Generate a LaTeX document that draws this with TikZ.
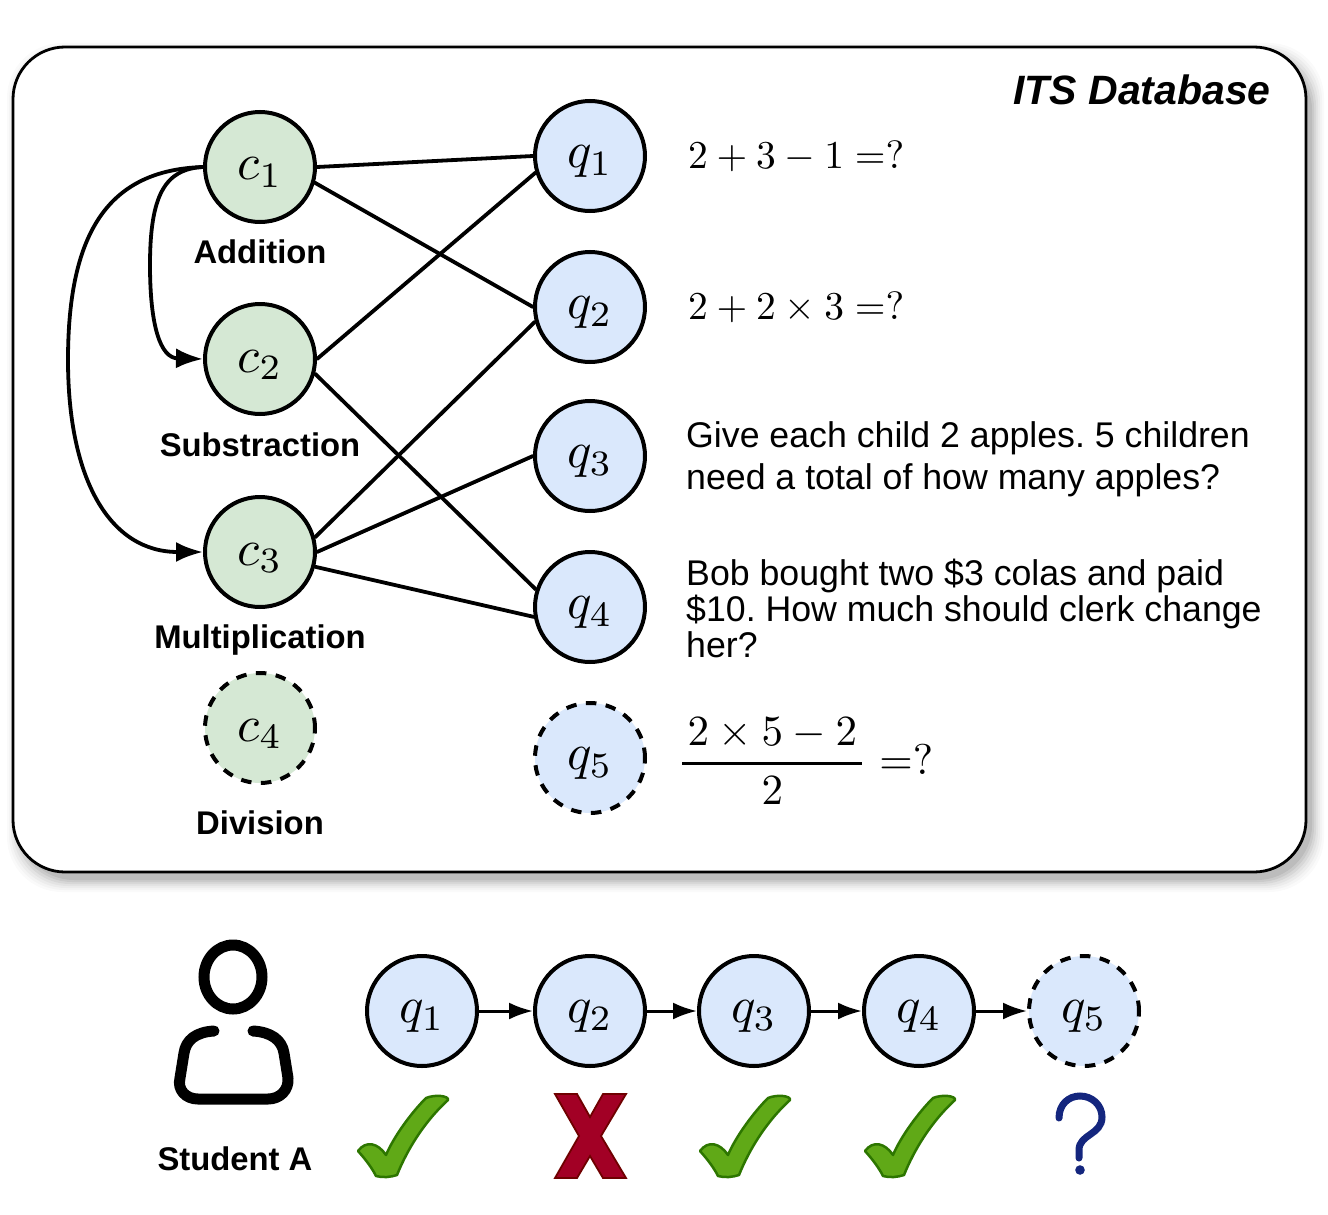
\documentclass[tikz,border=0pt]{standalone}
\usepackage{graphicx}
\usepackage[no-math]{fontspec}
\setmainfont{Liberation Sans}
\frenchspacing
\usetikzlibrary{arrows.meta}
\definecolor{cfill}{HTML}{D5E8D4}
\definecolor{qfill}{HTML}{DAE8FC}
\definecolor{chk}{HTML}{60A917}
\definecolor{chkd}{HTML}{2D7600}
\definecolor{xf}{HTML}{A20025}
\definecolor{xd}{HTML}{6F0000}
\definecolor{qm}{HTML}{14267E}
\newcommand{\circc}[1]{\raisebox{-13pt}[0pt][0pt]{\scalebox{5.1}{$#1$}}}
\newcommand{\circq}[1]{\raisebox{-11.5pt}[0pt][0pt]{\scalebox{5.1}{$#1$}}}
\newcommand{\eqm}[1]{\scalebox{3.95}{$#1$}}
\tikzset{
 x=1pt,y=-1pt,
 circ/.style={circle,draw=black,line width=4pt,minimum size=110pt,inner sep=0pt},
 cn/.style={circ,fill=cfill},
 qn/.style={circ,fill=qfill},
 future/.style={dash pattern=on 10.5pt off 9.5pt},
 lbl/.style={font=\fontsize{32.8}{33}\selectfont\bfseries,inner sep=0pt},
 eq/.style={inner sep=0pt,anchor=west},
 para/.style={font=\fontsize{35.7}{36}\selectfont,inner sep=0pt,anchor=west,align=left},
 edge/.style={line width=3.8pt,line cap=round},
 prereq/.style={line width=3.8pt,-{Latex[length=27pt,width=20pt]}},
 seq/.style={line width=3pt,-{Latex[length=24pt,width=17pt]}},
 tick/.pic={\draw[chkd,fill=chk,line width=2.5pt,line join=round]
   (448,1100) .. controls (449,1096) and (436,1094) .. (426,1098)
   .. controls (412,1112) and (394,1136) .. (386,1155)
   .. controls (378,1143) and (366,1140) .. (358,1151)
   .. controls (366,1160) and (372,1168) .. (376,1176)
   .. controls (383,1178) and (391,1177) .. (397,1175)
   .. controls (407,1150) and (424,1122) .. (448,1100) -- cycle;}
}
\begin{document}
\begin{tikzpicture}
\useasboundingbox (0,0) rectangle (1328,1215);
% shadow
\foreach \g/\o in {12/0.02,10/0.025,8/0.03,6/0.04,4/0.05,2/0.06,0/0.07}{
 \fill[black,opacity=\o,rounded corners=55pt] (13+6-\g,47+8-\g) rectangle (1306+6+\g,872+8+\g);
}
\node[draw=black,fill=white,line width=2.8pt,rounded corners=52pt,minimum width=1293pt,minimum height=825pt,inner sep=0pt] (db) at (659.5,459.5) {};
\node[font=\fontsize{41}{41}\selectfont\bfseries\itshape,inner sep=0pt,anchor=east] (title) at (1271,90) {ITS Database};

\node[cn] (c1) at (260,167) {\circc{c_1}};
\node[cn] (c2) at (260,359) {\circc{c_2}};
\node[cn] (c3) at (260,552) {\circc{c_3}};
\node[cn,future] (c4) at (260,728) {\circc{c_4}};
\node[lbl] (l1) at (260,252) {Addition};
\node[lbl] (l2) at (260,445) {Substraction};
\node[lbl] (l3) at (260,640) {Multiplication};
\node[lbl] (l4) at (260,823) {Division};

\node[qn] (q1) at (590,156) {\circq{q_1}};
\node[qn] (q2) at (590,307) {\circq{q_2}};
\node[qn] (q3) at (590,456) {\circq{q_3}};
\node[qn] (q4) at (590,607) {\circq{q_4}};
\node[qn,future] (q5) at (590,758) {\circq{q_5}};

\draw[edge] (c1.east) -- (q1.west);
\draw[edge] (c1.-16) -- (q2.west);
\draw[edge] (c2.east) -- (q1.197);
\draw[edge] (c2.-15) -- (q4.162);
\draw[edge] (c3.15) -- (q2.195);
\draw[edge] (c3.east) -- (q3.west);
\draw[edge] (c3.-15) -- (q4.190);
\draw[prereq] (c1.west) .. controls (165,169) and (150,195) .. (150,265) .. controls (150,325) and (160,358) .. (c2.west);
\draw[prereq] (c1.west) .. controls (110,170) and (68,230) .. (68,360) .. controls (68,480) and (110,552) .. (c3.west);

\node[eq] (t1) at (688,156) {\eqm{2+3-1=?}};
\node[eq] (t2) at (688,307) {\eqm{2+2\times3=?}};
\node[para] (t3) at (686,459) {Give each child 2 apples. 5 children\\[6pt]need a total of how many apples?};
\node[para] (t4) at (686,608) {Bob bought two \$3 colas and paid\\\$10. How much should clerk change\\her?};
\node[eq] (t5) at (677,761) {\scalebox{4.3}{$\displaystyle{{\kern1.2pt 2\times5-2\kern1.2pt}\above0.7pt{2}}=?$}};

% student
\node[qn] (s1) at (422,1011) {\circq{q_1}};
\node[qn] (s2) at (590,1011) {\circq{q_2}};
\node[qn] (s3) at (754,1011) {\circq{q_3}};
\node[qn] (s4) at (919,1011) {\circq{q_4}};
\node[qn,future] (s5) at (1084,1011) {\circq{q_5}};
\draw[seq] (s1) -- (s2);
\draw[seq] (s2) -- (s3);
\draw[seq] (s3) -- (s4);
\draw[seq] (s4) -- (s5);

\draw[line width=11pt] (233,977) ellipse [x radius=29,y radius=32];
\draw[line width=11pt,line cap=round,line join=round]
 (214,1031) .. controls (196,1032) and (186,1040) .. (184,1053)
 -- (180,1078) .. controls (177,1090) and (186,1099) .. (198,1099)
 -- (268,1099) .. controls (280,1099) and (289,1090) .. (288,1078)
 -- (284,1053) .. controls (282,1040) and (271,1032) .. (253,1031);
\node[lbl] (student) at (235,1159) {Student A};

\pic at (0,0) {tick};
\pic at (342,0) {tick};
\pic at (507,0) {tick};

\draw[xd,fill=xf,line width=1.8pt,line join=miter] (555,1094) -- (577,1094) -- (590,1117) -- (603,1094) -- (626,1094) -- (601,1136) -- (626,1178) -- (603,1178) -- (590,1156) -- (577,1178) -- (555,1178) -- (579,1136) -- cycle;

\draw[qm,line width=7pt,line cap=round] (1059,1118) .. controls (1059,1104) and (1069,1096) .. (1080,1096) .. controls (1092,1096) and (1102,1105) .. (1102,1117) .. controls (1102,1135) and (1079,1134) .. (1079,1150) -- (1079,1158);
\fill[qm] (1080,1170) circle (4.8pt);
\end{tikzpicture}
\end{document}
